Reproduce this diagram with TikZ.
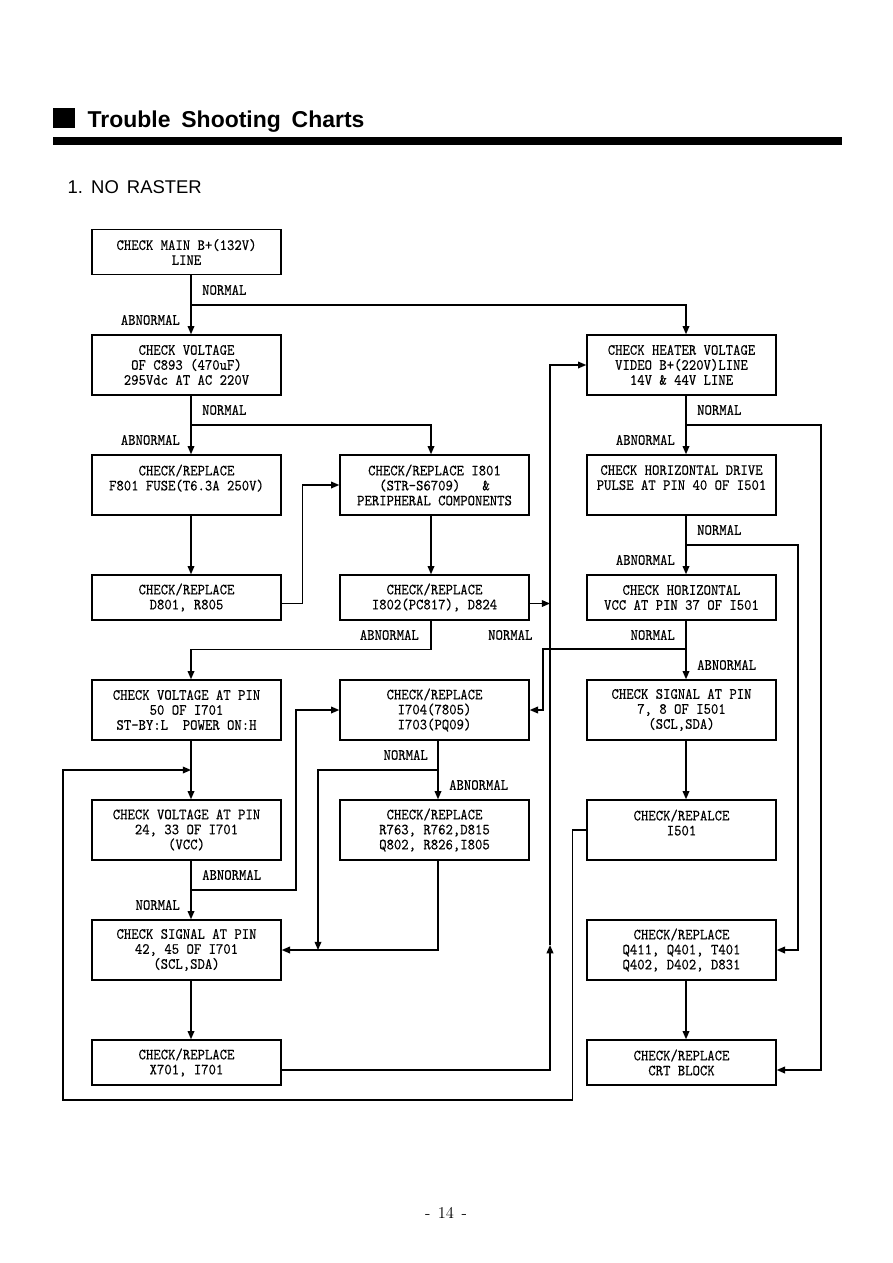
\documentclass[tikz,border=0pt]{standalone}
\usepackage{fontspec}
\usepackage{tikz}
\usetikzlibrary{calc,arrows.meta}
\newfontfamily\headfont{Liberation Sans}
\newfontfamily\boxfont{lmmono10-regular.otf}[FakeStretch=0.9,FakeBold=0.3]

\tikzset{
  chkbox/.style={draw, line width=1pt, inner sep=0pt, align=center,
    minimum width=126pt, minimum height=40pt},
  chkshort/.style={chkbox, minimum height=30pt},
  branch/.style={inner sep=1pt},
}

\begin{document}
\begin{tikzpicture}[x=0.66667pt, y=-0.66667pt, line width=0.9pt,
  >={Triangle[length=5.5pt,width=4.5pt]},
  font=\boxfont\fontsize{10.4}{10}\selectfont]
  \useasboundingbox (0,0) rectangle (893,1263);
  \fill (53,108) rectangle (75,128);
  \node[anchor=base west, inner sep=0pt, font=\headfont\bfseries\fontsize{15.3}{18}\selectfont]
    (title) at (87,127) {Trouble\ \hspace{3pt}Shooting\ \hspace{3pt}Charts};
  \fill (53,137) rectangle (842,145);
  \node[anchor=base west, inner sep=0pt, font=\headfont\fontsize{12.3}{14}\selectfont]
    (chart) at (67,193) {1.\ \hspace{2pt}NO\ \hspace{2pt}RASTER};
  \node[font=\rmfamily\fontsize{11}{13}\selectfont] (page) at (446,1213) {-\hspace{5pt}14\hspace{5pt}-};

  \coordinate (c1) at (191,0);
  \coordinate (c2) at (431,0);
  \coordinate (c2b) at (438,0);
  \coordinate (c3) at (686,0);
  \coordinate (rail) at (550,0);
  \coordinate (rail2) at (543,0);
  \coordinate (lrail) at (318,0);
  \coordinate (qrail) at (798,0);
  \coordinate (crtrail) at (821,0);

  \node[chkshort] (mainb) at (186.5,252) {CHECK MAIN B+(132V)\\LINE};
  \node[chkbox] (c893) at (186.5,365) {CHECK VOLTAGE\\OF C893 (470uF)\\295Vdc AT AC 220V};
  \node[chkbox] (heater) at (681.5,365) {CHECK HEATER VOLTAGE\\VIDEO B+(220V)LINE\\14V \& 44V LINE};
  \node[chkbox] (fuse) at (186.5,485) {CHECK/REPLACE\\F801 FUSE(T6.3A 250V)\\~};
  \node[chkbox] (i801) at (434.5,485) {CHECK/REPLACE I801\\(STR-S6709)\ \ \ \&\\PERIPHERAL COMPONENTS};
  \node[chkbox] (hdrive) at (681.5,485) {CHECK HORIZONTAL DRIVE\\PULSE AT PIN 40 OF I501\\~};
  \node[chkshort] (d801) at (186.5,597.5) {CHECK/REPLACE\\D801, R805};
  \node[chkshort] (i802) at (434.5,597.5) {CHECK/REPLACE\\I802(PC817), D824};
  \node[chkshort] (hvcc) at (681.5,597.5) {CHECK HORIZONTAL\\VCC AT PIN 37 OF I501};
  \node[chkbox] (pin50) at (186.5,710) {CHECK VOLTAGE AT PIN\\50 OF I701\\ST-BY:L\ \ POWER ON:H};
  \node[chkbox] (i704) at (434.5,710) {CHECK/REPLACE\\I704(7805)\\I703(PQ09)};
  \node[chkbox] (sig78) at (681.5,710) {CHECK SIGNAL AT PIN\\7, 8 OF I501\\(SCL,SDA)};
  \node[chkbox] (pin24) at (186.5,830) {CHECK VOLTAGE AT PIN\\24, 33 OF I701\\(VCC)};
  \node[chkbox] (r763) at (434.5,830) {CHECK/REPLACE\\R763, R762,D815\\Q802, R826,I805};
  \node[chkbox] (i501) at (681.5,830) {CHECK/REPALCE\\I501\\~};
  \node[chkbox] (sig42) at (186.5,950) {CHECK SIGNAL AT PIN\\42, 45 OF I701\\(SCL,SDA)};
  \node[chkbox] (q411) at (681.5,950) {CHECK/REPLACE\\Q411, Q401, T401\\Q402, D402, D831};
  \node[chkshort] (x701) at (186.5,1062.5) {CHECK/REPLACE\\X701, I701};
  \node[chkshort] (crt) at (681.5,1062.5) {CHECK/REPLACE\\CRT BLOCK};

  \node[branch, anchor=west] (l1) at (200,290) {NORMAL};
  \node[branch, anchor=east] (l2) at (182,320) {ABNORMAL};
  \node[branch, anchor=west] (l3) at (200,410) {NORMAL};
  \node[branch, anchor=east] (l4) at (182,440) {ABNORMAL};
  \node[branch, anchor=west] (l5) at (695,410) {NORMAL};
  \node[branch, anchor=east] (l6) at (677,440) {ABNORMAL};
  \node[branch, anchor=west] (l7) at (695,530) {NORMAL};
  \node[branch, anchor=east] (l8) at (677,560) {ABNORMAL};
  \node[branch, anchor=east] (l9) at (421,635) {ABNORMAL};
  \node[branch, anchor=west] (l10) at (486,635) {NORMAL};
  \node[branch, anchor=east] (l11) at (677,635) {NORMAL};
  \node[branch, anchor=west] (l12) at (695,665) {ABNORMAL};
  \node[branch, anchor=east] (l13) at (430,755) {NORMAL};
  \node[branch, anchor=west] (l14) at (447,785) {ABNORMAL};
  \node[branch, anchor=west] (l15) at (200,875) {ABNORMAL};
  \node[branch, anchor=east] (l16) at (182,905) {NORMAL};

  \coordinate (n1) at (191,305);
  \coordinate (n2) at (191,425);
  \coordinate (n3) at (686,425);
  \coordinate (n4) at (686,545);
  \coordinate (n5) at (686,649);
  \coordinate (n6) at (191,770);
  \coordinate (n7) at (191,890);
  \coordinate (n8) at (438,770);
  \coordinate (loopbl) at (63,1100);
  \coordinate (railup) at (550,945);
  \coordinate (d801out) at ([yshift=-4pt]d801.east);
  \coordinate (i802out) at ([yshift=-4pt]i802.east);
  \coordinate (x701out) at ([yshift=-5pt]x701.east);
  \coordinate (crtin) at ([yshift=-5pt]crt.east);

  \draw[->] (mainb.south -| c1) -- (c893.north -| c1);
  \draw[->] (n1) -| (heater.north -| c3);
  \draw[->] (c893.south -| c1) -- (fuse.north -| c1);
  \draw[->] (n2) -| (i801.north -| c2);
  \draw[->] (fuse.south -| c1) -- (d801.north -| c1);
  \draw[->] (d801out) -- ++(21,0) |- (i801.west);
  \draw[->] (i801.south -| c2) -- (i802.north -| c2);
  \draw[->] (i802out) -- (i802out -| rail);
  \draw[->] (i802.south -| c2) -- ++(0,29) -| (pin50.north -| c1);
  \draw[->] (x701out) -| (railup);
  \draw[->] (railup) |- (heater.west);
  \draw[->] (heater.south -| c3) -- (hdrive.north -| c3);
  \draw[->] (n3) -| (crtin -| crtrail) -- (crtin);
  \draw[->] (hdrive.south -| c3) -- (hvcc.north -| c3);
  \draw[->] (n4) -| (q411.east -| qrail) -- (q411.east);
  \draw[->] (hvcc.south -| c3) -- (sig78.north -| c3);
  \draw[->] (n5) -| (rail2 |- i704.east) -- (i704.east);
  \draw[->] (sig78.south -| c3) -- (i501.north -| c3);
  \draw[->] (i501.west) -- ++(-14,0) |- (loopbl) |- (n6);
  \draw[->] (pin50.south -| c1) -- (pin24.north -| c1);
  \draw[->] (pin24.south -| c1) -- (sig42.north -| c1);
  \draw[->] (n7) -- ++(105,0) |- (i704.west);
  \draw[->] (i704.south -| c2b) -- (r763.north -| c2b);
  \draw[->] (n8) -| (lrail |- sig42.east);
  \draw[->] (r763.south -| c2b) |- (sig42.east);
  \draw[->] (sig42.south -| c1) -- (x701.north -| c1);
  \draw[->] (q411.south -| c3) -- (crt.north -| c3);
\end{tikzpicture}
\end{document}
